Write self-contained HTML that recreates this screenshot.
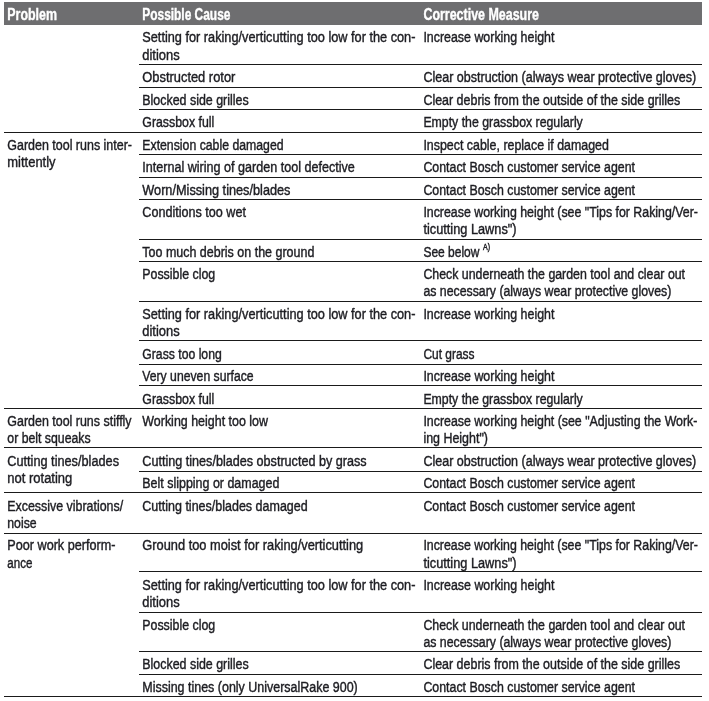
<!DOCTYPE html>
<html lang="en"><head><meta charset="utf-8"><title>Troubleshooting</title>
<style>
html,body{margin:0;padding:0;background:#fff;}
body{width:709px;height:701px;overflow:hidden;position:relative;}
svg{position:absolute;left:0;top:0;display:block;}
text{font-family:"Liberation Sans",sans-serif;font-size:14.0px;fill:#1d1d22;stroke:#1d1d22;stroke-width:0.4px;}
.h{font-weight:bold;font-size:16px;fill:#fff;stroke:#fff;stroke-width:0.4px;}
.sup{font-size:8.8px;stroke-width:0.45px;}
</style></head><body>
<svg width="709" height="701" viewBox="0 0 709 701">
<rect x="4" y="2" width="698" height="23" fill="#6e6e70"/>
<text class="h" x="7.30" y="20.00" textLength="49.70" lengthAdjust="spacingAndGlyphs">Problem</text>
<text class="h" x="142.30" y="20.00" textLength="88.09" lengthAdjust="spacingAndGlyphs">Possible Cause</text>
<text class="h" x="423.40" y="20.00" textLength="115.57" lengthAdjust="spacingAndGlyphs">Corrective Measure</text>
<text x="142.30" y="42.42" textLength="273.12" lengthAdjust="spacingAndGlyphs">Setting for raking/verticutting too low for the con-</text>
<text x="142.30" y="59.62" textLength="37.33" lengthAdjust="spacingAndGlyphs">ditions</text>
<text x="423.40" y="42.42" textLength="131.00" lengthAdjust="spacingAndGlyphs">Increase working height</text>
<rect x="139.0" y="64.00" width="563.0" height="1" fill="#1a1a1a"/>
<text x="142.30" y="82.13" textLength="93.05" lengthAdjust="spacingAndGlyphs">Obstructed rotor</text>
<text x="423.40" y="82.13" textLength="272.84" lengthAdjust="spacingAndGlyphs">Clear obstruction (always wear protective gloves)</text>
<rect x="139.0" y="87.00" width="563.0" height="1" fill="#1a1a1a"/>
<text x="142.30" y="104.61" textLength="106.34" lengthAdjust="spacingAndGlyphs">Blocked side grilles</text>
<text x="423.40" y="104.61" textLength="256.80" lengthAdjust="spacingAndGlyphs">Clear debris from the outside of the side grilles</text>
<rect x="139.0" y="109.00" width="563.0" height="1" fill="#1a1a1a"/>
<text x="142.30" y="127.09" textLength="71.93" lengthAdjust="spacingAndGlyphs">Grassbox full</text>
<text x="423.40" y="127.09" textLength="159.39" lengthAdjust="spacingAndGlyphs">Empty the grassbox regularly</text>
<rect x="4.0" y="132.00" width="698.0" height="1" fill="#1a1a1a"/>
<text x="7.30" y="149.57" textLength="124.67" lengthAdjust="spacingAndGlyphs">Garden tool runs inter-</text>
<text x="7.30" y="166.77" textLength="48.27" lengthAdjust="spacingAndGlyphs">mittently</text>
<text x="142.30" y="149.57" textLength="141.29" lengthAdjust="spacingAndGlyphs">Extension cable damaged</text>
<text x="423.40" y="149.57" textLength="185.51" lengthAdjust="spacingAndGlyphs">Inspect cable, replace if damaged</text>
<rect x="139.0" y="154.00" width="563.0" height="1" fill="#1a1a1a"/>
<text x="142.30" y="172.05" textLength="212.54" lengthAdjust="spacingAndGlyphs">Internal wiring of garden tool defective</text>
<text x="423.40" y="172.05" textLength="211.66" lengthAdjust="spacingAndGlyphs">Contact Bosch customer service agent</text>
<rect x="139.0" y="177.00" width="563.0" height="1" fill="#1a1a1a"/>
<text x="142.30" y="194.53" textLength="148.16" lengthAdjust="spacingAndGlyphs">Worn/Missing tines/blades</text>
<text x="423.40" y="194.53" textLength="211.66" lengthAdjust="spacingAndGlyphs">Contact Bosch customer service agent</text>
<rect x="139.0" y="199.00" width="563.0" height="1" fill="#1a1a1a"/>
<text x="142.30" y="217.01" textLength="103.62" lengthAdjust="spacingAndGlyphs">Conditions too wet</text>
<text x="423.40" y="217.01" textLength="274.52" lengthAdjust="spacingAndGlyphs">Increase working height (see "Tips for Raking/Ver-</text>
<text x="423.40" y="234.21" textLength="93.20" lengthAdjust="spacingAndGlyphs">ticutting Lawns")</text>
<rect x="139.0" y="239.00" width="563.0" height="1" fill="#1a1a1a"/>
<text x="142.30" y="256.71" textLength="172.05" lengthAdjust="spacingAndGlyphs">Too much debris on the ground</text>
<text x="423.40" y="256.71" textLength="56.09" lengthAdjust="spacingAndGlyphs">See below</text>
<text class="sup" x="483.1" y="250.00" textLength="7.0" lengthAdjust="spacingAndGlyphs">A)</text>
<rect x="139.0" y="261.00" width="563.0" height="1" fill="#1a1a1a"/>
<text x="142.30" y="279.19" textLength="72.92" lengthAdjust="spacingAndGlyphs">Possible clog</text>
<text x="423.40" y="279.19" textLength="261.66" lengthAdjust="spacingAndGlyphs">Check underneath the garden tool and clear out</text>
<text x="423.40" y="296.39" textLength="247.93" lengthAdjust="spacingAndGlyphs">as necessary (always wear protective gloves)</text>
<rect x="139.0" y="301.00" width="563.0" height="1" fill="#1a1a1a"/>
<text x="142.30" y="318.90" textLength="273.12" lengthAdjust="spacingAndGlyphs">Setting for raking/verticutting too low for the con-</text>
<text x="142.30" y="336.10" textLength="37.33" lengthAdjust="spacingAndGlyphs">ditions</text>
<text x="423.40" y="318.90" textLength="131.00" lengthAdjust="spacingAndGlyphs">Increase working height</text>
<rect x="139.0" y="340.00" width="563.0" height="1" fill="#1a1a1a"/>
<text x="142.30" y="358.60" textLength="79.45" lengthAdjust="spacingAndGlyphs">Grass too long</text>
<text x="423.40" y="358.60" textLength="51.14" lengthAdjust="spacingAndGlyphs">Cut grass</text>
<rect x="139.0" y="364.00" width="563.0" height="1" fill="#1a1a1a"/>
<text x="142.30" y="381.08" textLength="111.32" lengthAdjust="spacingAndGlyphs">Very uneven surface</text>
<text x="423.40" y="381.08" textLength="131.00" lengthAdjust="spacingAndGlyphs">Increase working height</text>
<rect x="139.0" y="385.00" width="563.0" height="1" fill="#1a1a1a"/>
<text x="142.30" y="403.56" textLength="71.93" lengthAdjust="spacingAndGlyphs">Grassbox full</text>
<text x="423.40" y="403.56" textLength="159.39" lengthAdjust="spacingAndGlyphs">Empty the grassbox regularly</text>
<rect x="4.0" y="408.00" width="698.0" height="1" fill="#1a1a1a"/>
<text x="7.30" y="426.04" textLength="124.29" lengthAdjust="spacingAndGlyphs">Garden tool runs stiffly</text>
<text x="7.30" y="443.24" textLength="83.36" lengthAdjust="spacingAndGlyphs">or belt squeaks</text>
<text x="142.30" y="426.04" textLength="125.70" lengthAdjust="spacingAndGlyphs">Working height too low</text>
<text x="423.40" y="426.04" textLength="274.04" lengthAdjust="spacingAndGlyphs">Increase working height (see "Adjusting the Work-</text>
<text x="423.40" y="443.24" textLength="64.60" lengthAdjust="spacingAndGlyphs">ing Height")</text>
<rect x="4.0" y="447.00" width="698.0" height="1" fill="#1a1a1a"/>
<text x="7.30" y="465.75" textLength="111.69" lengthAdjust="spacingAndGlyphs">Cutting tines/blades</text>
<text x="7.30" y="482.95" textLength="65.04" lengthAdjust="spacingAndGlyphs">not rotating</text>
<text x="142.30" y="465.75" textLength="224.33" lengthAdjust="spacingAndGlyphs">Cutting tines/blades obstructed by grass</text>
<text x="423.40" y="465.75" textLength="272.84" lengthAdjust="spacingAndGlyphs">Clear obstruction (always wear protective gloves)</text>
<rect x="139.0" y="471.00" width="563.0" height="1" fill="#1a1a1a"/>
<text x="142.30" y="488.23" textLength="137.08" lengthAdjust="spacingAndGlyphs">Belt slipping or damaged</text>
<text x="423.40" y="488.23" textLength="211.66" lengthAdjust="spacingAndGlyphs">Contact Bosch customer service agent</text>
<rect x="4.0" y="492.00" width="698.0" height="1" fill="#1a1a1a"/>
<text x="7.30" y="510.71" textLength="115.81" lengthAdjust="spacingAndGlyphs">Excessive vibrations/</text>
<text x="7.30" y="527.91" textLength="29.30" lengthAdjust="spacingAndGlyphs">noise</text>
<text x="142.30" y="510.71" textLength="165.43" lengthAdjust="spacingAndGlyphs">Cutting tines/blades damaged</text>
<text x="423.40" y="510.71" textLength="211.66" lengthAdjust="spacingAndGlyphs">Contact Bosch customer service agent</text>
<rect x="4.0" y="533.00" width="698.0" height="1" fill="#1a1a1a"/>
<text x="7.30" y="550.42" textLength="108.16" lengthAdjust="spacingAndGlyphs">Poor work perform-</text>
<text x="7.30" y="567.62" textLength="25.09" lengthAdjust="spacingAndGlyphs">ance</text>
<text x="142.30" y="550.42" textLength="220.95" lengthAdjust="spacingAndGlyphs">Ground too moist for raking/verticutting</text>
<text x="423.40" y="550.42" textLength="274.52" lengthAdjust="spacingAndGlyphs">Increase working height (see "Tips for Raking/Ver-</text>
<text x="423.40" y="567.62" textLength="93.20" lengthAdjust="spacingAndGlyphs">ticutting Lawns")</text>
<rect x="139.0" y="571.00" width="563.0" height="1" fill="#1a1a1a"/>
<text x="142.30" y="590.12" textLength="273.12" lengthAdjust="spacingAndGlyphs">Setting for raking/verticutting too low for the con-</text>
<text x="142.30" y="607.32" textLength="37.33" lengthAdjust="spacingAndGlyphs">ditions</text>
<text x="423.40" y="590.12" textLength="131.00" lengthAdjust="spacingAndGlyphs">Increase working height</text>
<rect x="139.0" y="612.00" width="563.0" height="1" fill="#1a1a1a"/>
<text x="142.30" y="629.83" textLength="72.92" lengthAdjust="spacingAndGlyphs">Possible clog</text>
<text x="423.40" y="629.83" textLength="261.66" lengthAdjust="spacingAndGlyphs">Check underneath the garden tool and clear out</text>
<text x="423.40" y="647.03" textLength="247.93" lengthAdjust="spacingAndGlyphs">as necessary (always wear protective gloves)</text>
<rect x="139.0" y="651.00" width="563.0" height="1" fill="#1a1a1a"/>
<text x="142.30" y="668.93" textLength="106.34" lengthAdjust="spacingAndGlyphs">Blocked side grilles</text>
<text x="423.40" y="668.93" textLength="256.80" lengthAdjust="spacingAndGlyphs">Clear debris from the outside of the side grilles</text>
<rect x="139.0" y="674.00" width="563.0" height="1" fill="#1a1a1a"/>
<text x="142.30" y="692.01" textLength="215.46" lengthAdjust="spacingAndGlyphs">Missing tines (only UniversalRake 900)</text>
<text x="423.40" y="692.01" textLength="211.66" lengthAdjust="spacingAndGlyphs">Contact Bosch customer service agent</text>
<rect x="4.0" y="696.00" width="698.0" height="1" fill="#1a1a1a"/>
</svg>
</body></html>
